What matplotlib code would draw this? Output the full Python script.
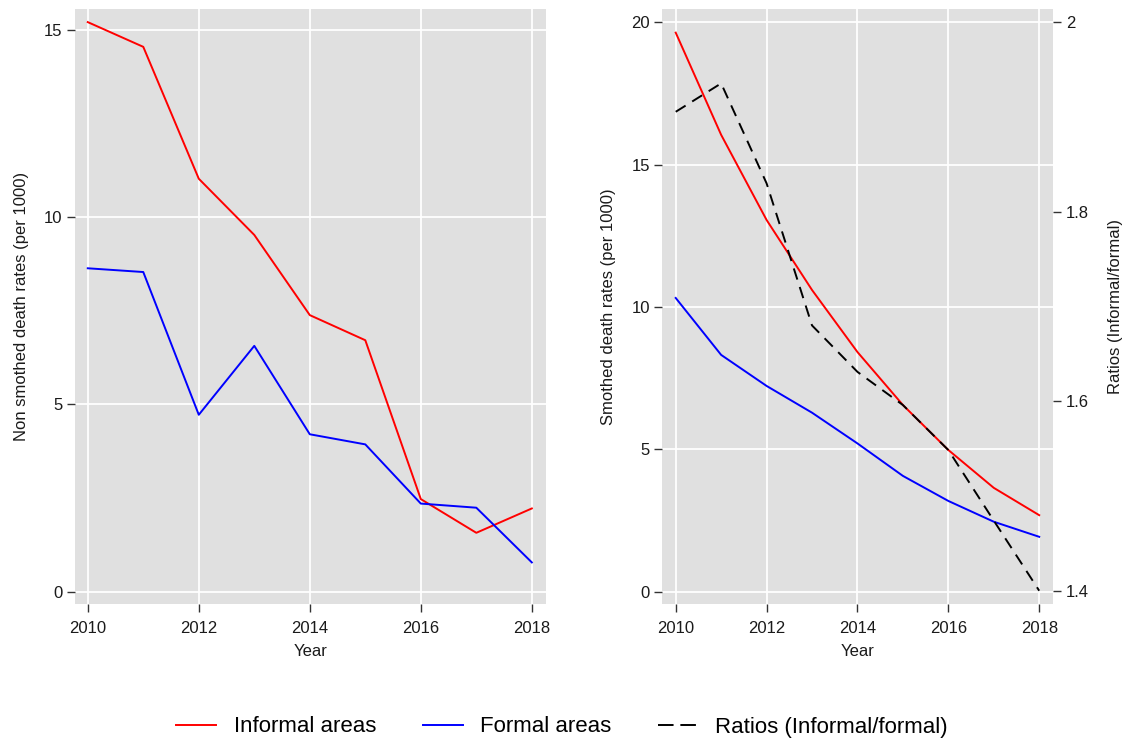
import matplotlib
matplotlib.use("Agg")
import matplotlib.pyplot as plt
from matplotlib.lines import Line2D

plt.rcParams['font.family'] = ['Liberation Sans', 'DejaVu Sans']

years = [2010, 2011, 2012, 2013, 2014, 2015, 2016, 2017, 2018]
raw_informal = [15.2, 14.54, 11.02, 9.52, 7.38, 6.71, 2.47, 1.57, 2.22]
raw_formal = [8.63, 8.53, 4.72, 6.56, 4.2, 3.93, 2.35, 2.24, 0.78]
sm_informal = [19.64, 16.05, 13.06, 10.6, 8.42, 6.56, 4.98, 3.65, 2.69]
sm_formal = [10.32, 8.32, 7.23, 6.29, 5.21, 4.07, 3.19, 2.46, 1.93]
ratios = [1.9055, 1.9355, 1.83, 1.68, 1.631, 1.596, 1.5485, 1.474, 1.4]
x_ticks = [2010, 2012, 2014, 2016, 2018]

W, H = 1123, 740
fig = plt.figure(figsize=(W / 100, H / 100), dpi=100)

bg = '#e0e0e0'
txt = '#1a1a1a'
lw = 1.4
fs_tick = 12
fs_lab = 12

def style(ax):
    ax.set_facecolor(bg)
    for s in ax.spines.values():
        s.set_visible(False)
    ax.grid(True, color='white', linewidth=1.3)
    ax.set_axisbelow(True)
    ax.tick_params(direction='out', length=5.5, width=1, color='#333333',
                   labelsize=fs_tick, labelcolor=txt)
    ax.tick_params(axis='x', pad=6.5)
    ax.tick_params(axis='y', pad=3.5)

# left panel
ax1 = fig.add_axes([75 / W, 1 - 604 / H, (545.7 - 75) / W, (604 - 9) / H])
style(ax1)
ax1.plot(years, raw_informal, color='red', lw=lw)
ax1.plot(years, raw_formal, color='blue', lw=lw)
ax1.set_xlim(2009.77, 2018.25)
ax1.set_ylim(-0.33, 15.55)
ax1.set_xticks(x_ticks)
ax1.set_yticks([0, 5, 10, 15])
ax1.set_xlabel('Year', fontsize=fs_lab, color=txt, labelpad=6)
ax1.set_ylabel('Non smothed death rates (per 1000)', fontsize=fs_lab, color=txt, labelpad=11)

# right panel
ax2 = fig.add_axes([662.3 / W, 1 - 604 / H, (1053.3 - 662.3) / W, (604 - 9) / H])
style(ax2)
ax2.plot(years, sm_informal, color='red', lw=lw)
ax2.plot(years, sm_formal, color='blue', lw=lw)
ax2.set_xlim(2009.705, 2018.31)
ax2.set_ylim(-0.43, 20.47)
ax2.set_xticks(x_ticks)
ax2.set_yticks([0, 5, 10, 15, 20])
ax2.set_xlabel('Year', fontsize=fs_lab, color=txt, labelpad=6)
ax2.set_ylabel('Smothed death rates (per 1000)', fontsize=fs_lab, color=txt, labelpad=11)

ax3 = ax2.twinx()
for s in ax3.spines.values():
    s.set_visible(False)
ax3.plot(years, ratios, color='black', lw=lw, dashes=(6, 4))
ax3.set_ylim(1.386, 2.014)
ax3.set_yticks([1.4, 1.6, 1.8, 2.0])
ax3.set_yticklabels(['1.4', '1.6', '1.8', '2'])
ax3.tick_params(direction='out', length=5.5, width=1, color='#333333',
                labelsize=fs_tick, labelcolor=txt, pad=3.5)
ax3.set_ylabel('Ratios (Informal/formal)', fontsize=fs_lab, color=txt, labelpad=14)

handles = [Line2D([], [], color='red', lw=lw),
           Line2D([], [], color='blue', lw=lw),
           Line2D([], [], color='black', lw=lw, dashes=(8, 3.5))]
labels = ['Informal areas', 'Formal areas', 'Ratios (Informal/formal)']
fig.legend(handles, labels, loc='center', bbox_to_anchor=(562 / W, 1 - 727 / H),
           ncol=3, frameon=False, fontsize=16, handlelength=1.8,
           columnspacing=2.1, handletextpad=0.78)

fig.savefig('out.png', dpi=100)
